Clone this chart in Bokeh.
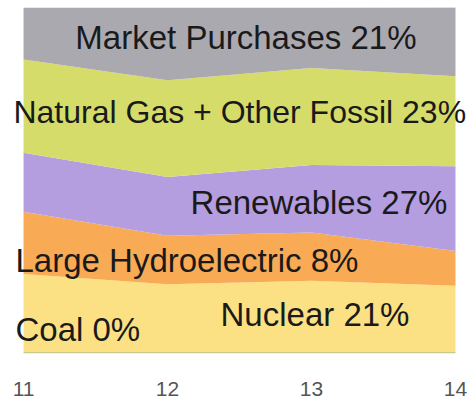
from bokeh.plotting import figure
from bokeh.models import ColumnDataSource, Label, FixedTicker
from bokeh.embed import file_html
from bokeh.resources import INLINE

years = [2011, 2012, 2013, 2014]
tick_labels = ["11", "12", "13", "14"]
coal = [0.4, 0.4, 0.4, 0.4]
nuclear = [22.6, 19.6, 20.6, 19.2]
hydro = [18, 14, 14, 10]
renewables = [17, 17, 19.5, 24.5]
natgas = [27, 28, 28, 26]
market = [15, 21, 17.5, 20]

series = ["coal", "nuclear", "hydro", "renewables", "natgas", "market"]
colors = ["#c9c98f", "#fbe183", "#f9aa55", "#b59ee0", "#d5dc6a", "#aaa9b0"]

label_texts = ["Market Purchases 21%", "Natural Gas + Other Fossil 23%",
               "Renewables 27%", "Large Hydroelectric 8%", "Nuclear 21%", "Coal 0%"]
label_x = [2011.36, 2010.93, 2012.16, 2010.944, 2012.368, 2010.944]
label_y = [91.3, 69.9, 43.6, 27.0, 11.3, 7.0]
label_size = ["33px", "32px", "33px", "33px", "33px", "33px"]

source = ColumnDataSource(dict(year=years, coal=coal, nuclear=nuclear, hydro=hydro,
                               renewables=renewables, natgas=natgas, market=market))

p = figure(width=473, height=398, x_range=(2010.840, 2014.125), y_range=(0, 100),
           output_backend="svg", toolbar_location=None,
           min_border_left=0, min_border_right=0, min_border_top=7, min_border_bottom=41)
p.varea_stack(stackers=series, x="year", color=colors, source=source)

p.yaxis.visible = False
p.grid.visible = False
p.outline_line_color = None
p.xaxis.ticker = FixedTicker(ticks=years)
p.xaxis.major_label_overrides = {y: t for y, t in zip(years, tick_labels)}
p.xaxis.axis_line_color = None
p.xaxis.major_tick_line_color = None
p.xaxis.minor_tick_line_color = None
p.xaxis.major_label_standoff = 22
p.xaxis.major_label_text_font = "Liberation Sans"
p.xaxis.major_label_text_font_size = "21px"
p.xaxis.major_label_text_color = "#555555"

for t, x, y, s in zip(label_texts, label_x, label_y, label_size):
    p.add_layout(Label(x=x, y=y, text=t, text_align="left", text_baseline="middle",
                       text_font="Liberation Sans", text_font_size=s,
                       text_color="#1a1a1a"))

open("out.html", "w").write(file_html(p, INLINE))
